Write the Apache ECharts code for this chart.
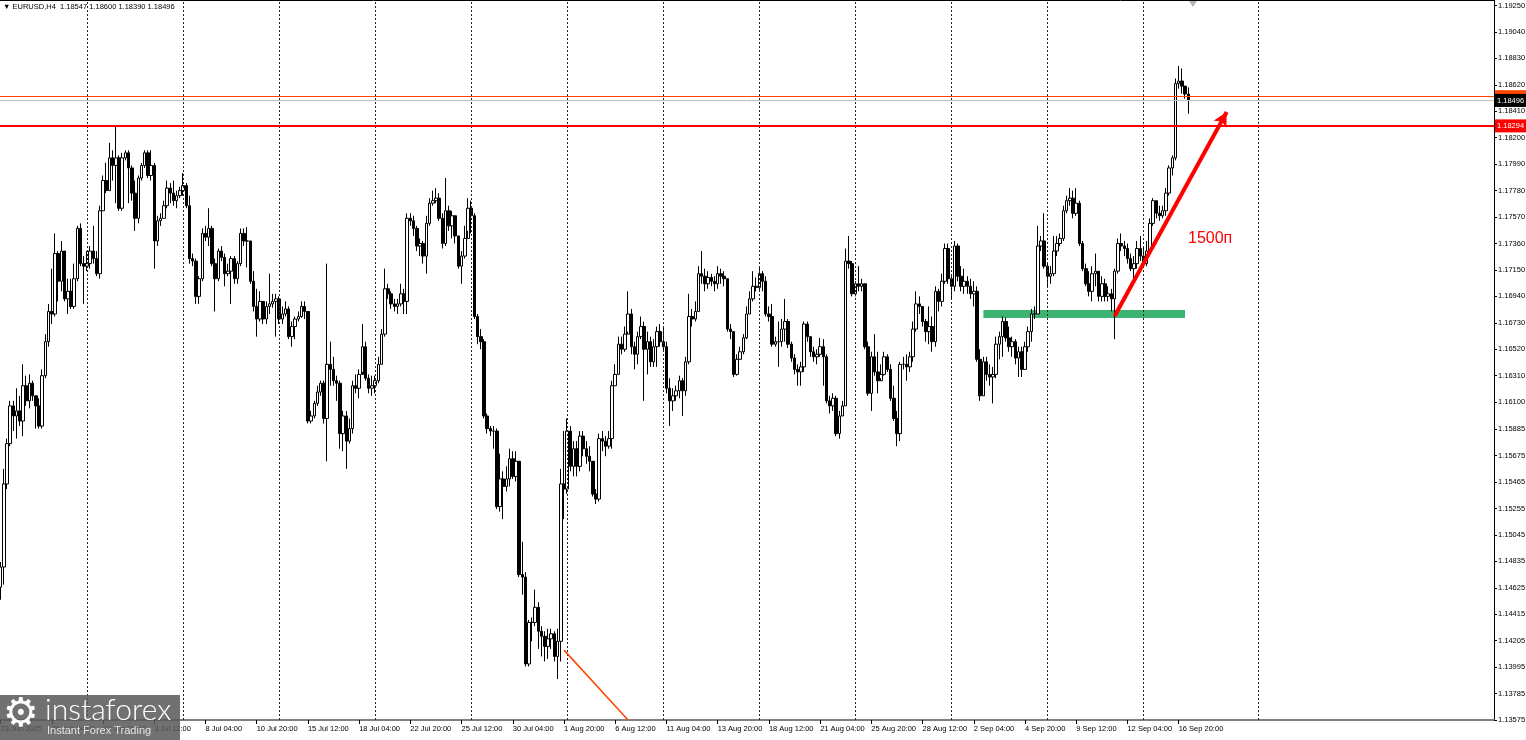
<!DOCTYPE html>
<html><head><meta charset="utf-8">
<script src="https://cdn.jsdelivr.net/npm/echarts@6/dist/echarts.min.js"></script>
<style>html,body{margin:0;padding:0;background:#fff}#c{width:1526px;height:740px}</style>
</head><body><div id="c"></div>
<script>
// ---- Data (EURUSD H4) ----
const tickLabelsX = ['23 Jun 2025','26 Jun 04:00','30 Jun 20:00','3 Jul 12:00','8 Jul 04:00','10 Jul 20:00','15 Jul 12:00','18 Jul 04:00','22 Jul 20:00','25 Jul 12:00','30 Jul 04:00','1 Aug 20:00','6 Aug 12:00','11 Aug 04:00','13 Aug 20:00','18 Aug 12:00','21 Aug 04:00','25 Aug 20:00','28 Aug 12:00','2 Sep 04:00','4 Sep 20:00','9 Sep 12:00','12 Sep 04:00','16 Sep 20:00'];
const tickValuesY = [1.19250,1.19040,1.18830,1.18620,1.18410,1.18200,1.17990,1.17780,1.17570,1.17360,1.17150,1.16940,1.16730,1.16520,1.16310,1.16100,1.15885,1.15675,1.15465,1.15255,1.15045,1.14835,1.14625,1.14415,1.14205,1.13995,1.13785,1.13575];
const weekSeparators = [27,57,87,117,147,177,207,237,267,297,327,357,393];

const opens = [
1.1463,1.1479,1.1545,1.1577,1.1607,1.1599,1.1603,1.1595,1.1623,1.1611,
1.1625,1.1615,1.1607,1.1591,1.1631,1.1658,1.1682,1.1680,1.1728,1.1706,
1.1730,1.1692,1.1698,1.1686,1.1708,1.1748,1.1720,1.1718,1.1720,1.1730,
1.1724,1.1712,1.1762,1.1786,1.1778,1.1804,1.1798,1.1804,1.1764,1.1804,
1.1808,1.1796,1.1776,1.1756,1.1788,1.1798,1.1808,1.1790,1.1798,1.1738,
1.1754,1.1756,1.1766,1.1780,1.1776,1.1770,1.1774,1.1778,1.1782,1.1766,
1.1724,1.1722,1.1694,1.1708,1.1744,1.1741,1.1748,1.1720,1.1708,1.1730,
1.1725,1.1712,1.1714,1.1724,1.1708,1.1720,1.1744,1.1738,1.1738,1.1706,
1.1686,1.1676,1.1690,1.1676,1.1686,1.1688,1.1690,1.1692,1.1676,1.1680,
1.1684,1.1662,1.1670,1.1676,1.1678,1.1686,1.1682,1.1595,1.1599,1.1609,
1.1618,1.1625,1.1597,1.1640,1.1636,1.1627,1.1625,1.1585,1.1599,1.1579,
1.1589,1.1623,1.1621,1.1632,1.1654,1.1629,1.1621,1.1623,1.1627,1.1640,
1.1664,1.1700,1.1696,1.1688,1.1686,1.1688,1.1696,1.1690,1.1756,1.1754,
1.1748,1.1734,1.1736,1.1726,1.1752,1.1768,1.1770,1.1772,1.1756,1.1736,
1.1762,1.1750,1.1758,1.1742,1.1718,1.1726,1.1740,1.1764,1.1758,1.1678,
1.1662,1.1658,1.1599,1.1589,1.1587,1.1587,1.1527,1.1549,1.1543,1.1549,
1.1565,1.1551,1.1563,1.1473,1.1471,1.1402,1.1435,1.1435,1.1447,1.1428,
1.1424,1.1416,1.1422,1.1426,1.1408,1.1420,1.1545,1.1541,1.1587,1.1559,
1.1573,1.1559,1.1583,1.1573,1.1567,1.1563,1.1537,1.1533,1.1581,1.1579,
1.1575,1.1581,1.1623,1.1632,1.1656,1.1652,1.1664,1.1680,1.1654,1.1648,
1.1662,1.1670,1.1652,1.1658,1.1642,1.1654,1.1666,1.1658,1.1654,1.1621,
1.1611,1.1615,1.1619,1.1627,1.1619,1.1642,1.1678,1.1676,1.1682,1.1712,
1.1710,1.1704,1.1709,1.1706,1.1704,1.1712,1.1710,1.1708,1.1668,1.1666,
1.1632,1.1644,1.1650,1.1661,1.1680,1.1692,1.1702,1.1701,1.1712,1.1706,
1.1680,1.1678,1.1656,1.1658,1.1658,1.1668,1.1674,1.1656,1.1645,1.1636,
1.1634,1.1638,1.1672,1.1662,1.1650,1.1646,1.1648,1.1654,1.1646,1.1611,
1.1607,1.1613,1.1585,1.1599,1.1607,1.1722,1.1720,1.1696,1.1704,1.1702,
1.1704,1.1654,1.1617,1.1646,1.1634,1.1627,1.1632,1.1646,1.1636,1.1613,
1.1597,1.1585,1.1640,1.1640,1.1638,1.1646,1.1668,1.1688,1.1686,1.1674,
1.1666,1.1670,1.1658,1.1698,1.1690,1.1706,1.1732,1.1708,1.1702,1.1734,
1.1710,1.1702,1.1706,1.1702,1.1696,1.1698,1.1644,1.1615,1.1642,1.1632,
1.1630,1.1632,1.1656,1.1662,1.1674,1.1661,1.1654,1.1658,1.1645,1.1650,
1.1636,1.1654,1.1666,1.1680,1.1680,1.1734,1.1738,1.1718,1.1710,1.1712,
1.1730,1.1736,1.1740,1.1762,1.1770,1.1772,1.1760,1.1768,1.1736,1.1716,
1.1704,1.1698,1.1712,1.1714,1.1694,1.1704,1.1694,1.1696,1.1692,1.1714,
1.1736,1.1734,1.1732,1.1724,1.1716,1.1720,1.1732,1.1726,1.1720,1.1730,
1.1752,1.1770,1.1760,1.1758,1.1762,1.1776,1.1796,1.1804,1.1863,1.1865,
1.1861,1.18547];

const closes = [
1.1479,1.1545,1.1577,1.1607,1.1599,1.1603,1.1595,1.1623,1.1611,1.1625,
1.1615,1.1607,1.1591,1.1631,1.1658,1.1682,1.1680,1.1728,1.1706,1.1730,
1.1692,1.1698,1.1686,1.1708,1.1748,1.1720,1.1718,1.1720,1.1730,1.1724,
1.1712,1.1762,1.1786,1.1778,1.1804,1.1798,1.1804,1.1764,1.1804,1.1808,
1.1796,1.1776,1.1756,1.1788,1.1798,1.1808,1.1790,1.1798,1.1738,1.1754,
1.1756,1.1766,1.1780,1.1776,1.1770,1.1774,1.1778,1.1782,1.1766,1.1724,
1.1722,1.1694,1.1708,1.1744,1.1741,1.1748,1.1720,1.1708,1.1730,1.1725,
1.1712,1.1714,1.1724,1.1708,1.1720,1.1744,1.1738,1.1738,1.1706,1.1686,
1.1676,1.1690,1.1676,1.1686,1.1688,1.1690,1.1692,1.1676,1.1680,1.1684,
1.1662,1.1670,1.1676,1.1678,1.1686,1.1682,1.1595,1.1599,1.1609,1.1618,
1.1625,1.1597,1.1640,1.1636,1.1627,1.1625,1.1585,1.1599,1.1579,1.1589,
1.1623,1.1621,1.1632,1.1654,1.1629,1.1621,1.1623,1.1627,1.1640,1.1664,
1.1700,1.1696,1.1688,1.1686,1.1688,1.1696,1.1690,1.1756,1.1754,1.1748,
1.1734,1.1736,1.1726,1.1752,1.1768,1.1770,1.1772,1.1756,1.1736,1.1762,
1.1750,1.1758,1.1742,1.1718,1.1726,1.1740,1.1764,1.1758,1.1678,1.1662,
1.1658,1.1599,1.1589,1.1587,1.1587,1.1527,1.1549,1.1543,1.1549,1.1565,
1.1551,1.1563,1.1473,1.1471,1.1402,1.1435,1.1435,1.1447,1.1428,1.1424,
1.1416,1.1422,1.1426,1.1408,1.1420,1.1545,1.1541,1.1587,1.1559,1.1573,
1.1559,1.1583,1.1573,1.1567,1.1563,1.1537,1.1533,1.1581,1.1579,1.1575,
1.1581,1.1623,1.1632,1.1656,1.1652,1.1664,1.1680,1.1654,1.1648,1.1662,
1.1670,1.1652,1.1658,1.1642,1.1654,1.1666,1.1658,1.1654,1.1621,1.1611,
1.1615,1.1619,1.1627,1.1619,1.1642,1.1678,1.1676,1.1682,1.1712,1.1710,
1.1704,1.1709,1.1706,1.1704,1.1712,1.1710,1.1708,1.1668,1.1666,1.1632,
1.1644,1.1650,1.1661,1.1680,1.1692,1.1702,1.1701,1.1712,1.1706,1.1680,
1.1678,1.1656,1.1658,1.1658,1.1668,1.1674,1.1656,1.1645,1.1636,1.1634,
1.1638,1.1672,1.1662,1.1650,1.1646,1.1648,1.1654,1.1646,1.1611,1.1607,
1.1613,1.1585,1.1599,1.1607,1.1722,1.1720,1.1696,1.1704,1.1702,1.1704,
1.1654,1.1617,1.1646,1.1634,1.1627,1.1632,1.1646,1.1636,1.1613,1.1597,
1.1585,1.1640,1.1640,1.1638,1.1646,1.1668,1.1688,1.1686,1.1674,1.1666,
1.1670,1.1658,1.1698,1.1690,1.1706,1.1732,1.1708,1.1702,1.1734,1.1710,
1.1702,1.1706,1.1702,1.1696,1.1698,1.1644,1.1615,1.1642,1.1632,1.1630,
1.1632,1.1656,1.1662,1.1674,1.1661,1.1654,1.1658,1.1645,1.1650,1.1636,
1.1654,1.1666,1.1680,1.1680,1.1734,1.1738,1.1718,1.1710,1.1712,1.1730,
1.1736,1.1740,1.1762,1.1770,1.1772,1.1760,1.1768,1.1736,1.1716,1.1704,
1.1698,1.1712,1.1714,1.1694,1.1704,1.1694,1.1696,1.1692,1.1714,1.1736,
1.1734,1.1732,1.1724,1.1716,1.1720,1.1732,1.1726,1.1720,1.1730,1.1752,
1.1770,1.1760,1.1758,1.1762,1.1776,1.1796,1.1804,1.1863,1.1865,1.1861,
1.18547,1.18496];

const highs = [
1.1483,1.1557,1.1581,1.1611,1.1611,1.1621,1.1615,1.1640,1.1631,1.1632,
1.1627,1.1615,1.1613,1.1636,1.1664,1.1688,1.1716,1.1744,1.1730,1.1738,
1.1730,1.1708,1.1708,1.1720,1.1750,1.1752,1.1726,1.1730,1.1734,1.1750,
1.1730,1.1766,1.1790,1.1800,1.1816,1.1810,1.1829,1.1806,1.1808,1.1810,
1.1810,1.1798,1.1786,1.1790,1.1800,1.1810,1.1810,1.1810,1.1800,1.1758,
1.1760,1.1770,1.1786,1.1784,1.1786,1.1778,1.1781,1.1792,1.1784,1.1774,
1.1728,1.1724,1.1710,1.1748,1.1750,1.1764,1.1750,1.1724,1.1732,1.1734,
1.1728,1.1720,1.1726,1.1726,1.1722,1.1748,1.1748,1.1749,1.1730,1.1714,
1.1700,1.1698,1.1690,1.1690,1.1712,1.1696,1.1696,1.1694,1.1686,1.1690,
1.1686,1.1674,1.1678,1.1682,1.1690,1.1690,1.1682,1.1603,1.1611,1.1623,
1.1627,1.1627,1.1720,1.1658,1.1646,1.1631,1.1627,1.1603,1.1603,1.1597,
1.1627,1.1632,1.1636,1.1672,1.1658,1.1632,1.1631,1.1631,1.1646,1.1668,
1.1716,1.1704,1.1698,1.1692,1.1692,1.1704,1.1700,1.1760,1.1760,1.1758,
1.1750,1.1740,1.1738,1.1758,1.1772,1.1778,1.1780,1.1776,1.1760,1.1788,
1.1766,1.1762,1.1758,1.1742,1.1730,1.1750,1.1772,1.1770,1.1760,1.1680,
1.1668,1.1660,1.1601,1.1591,1.1591,1.1589,1.1569,1.1555,1.1559,1.1573,
1.1571,1.1571,1.1559,1.1499,1.1475,1.1437,1.1439,1.1461,1.1451,1.1432,
1.1428,1.1430,1.1430,1.1428,1.1430,1.1557,1.1587,1.1597,1.1591,1.1579,
1.1579,1.1587,1.1587,1.1579,1.1575,1.1561,1.1541,1.1585,1.1587,1.1583,
1.1587,1.1627,1.1640,1.1662,1.1662,1.1670,1.1698,1.1684,1.1658,1.1666,
1.1678,1.1674,1.1666,1.1662,1.1660,1.1670,1.1672,1.1670,1.1658,1.1629,
1.1621,1.1623,1.1631,1.1629,1.1646,1.1696,1.1684,1.1690,1.1718,1.1730,
1.1716,1.1714,1.1712,1.1710,1.1718,1.1716,1.1714,1.1708,1.1672,1.1666,
1.1648,1.1654,1.1664,1.1686,1.1698,1.1714,1.1709,1.1718,1.1714,1.1710,
1.1686,1.1688,1.1662,1.1674,1.1676,1.1692,1.1676,1.1658,1.1648,1.1640,
1.1642,1.1674,1.1674,1.1662,1.1654,1.1652,1.1661,1.1660,1.1648,1.1615,
1.1617,1.1615,1.1603,1.1611,1.1732,1.1742,1.1722,1.1706,1.1718,1.1708,
1.1704,1.1658,1.1650,1.1664,1.1650,1.1640,1.1650,1.1648,1.1640,1.1623,
1.1603,1.1642,1.1646,1.1648,1.1650,1.1674,1.1698,1.1694,1.1684,1.1676,
1.1686,1.1678,1.1702,1.1700,1.1712,1.1736,1.1736,1.1710,1.1738,1.1736,
1.1718,1.1716,1.1710,1.1708,1.1706,1.1702,1.1652,1.1646,1.1646,1.1640,
1.1638,1.1662,1.1666,1.1678,1.1677,1.1670,1.1662,1.1660,1.1654,1.1654,
1.1658,1.1670,1.1684,1.1686,1.1750,1.1742,1.1760,1.1720,1.1718,1.1742,
1.1742,1.1744,1.1766,1.1774,1.1780,1.1778,1.1780,1.1770,1.1738,1.1720,
1.1714,1.1718,1.1728,1.1714,1.1710,1.1708,1.1702,1.1700,1.1716,1.1740,
1.1744,1.1738,1.1736,1.1728,1.1726,1.1738,1.1742,1.1734,1.1738,1.1756,
1.1772,1.1770,1.1766,1.1766,1.1780,1.1798,1.1806,1.1867,1.1877,1.1875,
1.1861,1.18600];

const lows = [
1.1453,1.1465,1.1541,1.1575,1.1587,1.1581,1.1591,1.1583,1.1607,1.1605,
1.1611,1.1589,1.1589,1.1589,1.1629,1.1654,1.1672,1.1678,1.1690,1.1698,
1.1690,1.1680,1.1684,1.1684,1.1706,1.1718,1.1688,1.1714,1.1716,1.1720,
1.1710,1.1708,1.1762,1.1776,1.1778,1.1786,1.1768,1.1762,1.1762,1.1802,
1.1768,1.1770,1.1746,1.1752,1.1786,1.1796,1.1788,1.1786,1.1716,1.1734,
1.1750,1.1756,1.1764,1.1768,1.1766,1.1764,1.1772,1.1774,1.1764,1.1720,
1.1718,1.1688,1.1688,1.1706,1.1738,1.1734,1.1718,1.1682,1.1706,1.1722,
1.1702,1.1710,1.1688,1.1704,1.1704,1.1718,1.1734,1.1717,1.1704,1.1682,
1.1662,1.1674,1.1672,1.1672,1.1680,1.1685,1.1662,1.1672,1.1672,1.1678,
1.1660,1.1654,1.1660,1.1674,1.1677,1.1676,1.1593,1.1593,1.1597,1.1607,
1.1615,1.1593,1.1563,1.1623,1.1623,1.1611,1.1573,1.1571,1.1557,1.1577,
1.1585,1.1617,1.1613,1.1634,1.1627,1.1617,1.1615,1.1617,1.1625,1.1640,
1.1662,1.1692,1.1684,1.1682,1.1680,1.1686,1.1680,1.1680,1.1750,1.1742,
1.1730,1.1726,1.1720,1.1712,1.1750,1.1766,1.1768,1.1754,1.1732,1.1734,
1.1746,1.1740,1.1736,1.1716,1.1704,1.1724,1.1746,1.1744,1.1676,1.1656,
1.1652,1.1597,1.1585,1.1583,1.1573,1.1525,1.1523,1.1517,1.1539,1.1543,
1.1549,1.1547,1.1471,1.1457,1.1400,1.1400,1.1420,1.1432,1.1414,1.1408,
1.1404,1.1406,1.1414,1.1404,1.1390,1.1404,1.1517,1.1537,1.1555,1.1551,
1.1551,1.1555,1.1567,1.1561,1.1555,1.1535,1.1529,1.1531,1.1571,1.1567,
1.1573,1.1573,1.1623,1.1632,1.1648,1.1650,1.1666,1.1648,1.1636,1.1640,
1.1660,1.1611,1.1632,1.1638,1.1638,1.1638,1.1654,1.1650,1.1617,1.1591,
1.1603,1.1611,1.1613,1.1599,1.1615,1.1640,1.1670,1.1674,1.1682,1.1704,
1.1698,1.1700,1.1702,1.1698,1.1700,1.1704,1.1702,1.1666,1.1660,1.1630,
1.1631,1.1644,1.1648,1.1660,1.1680,1.1690,1.1698,1.1698,1.1698,1.1678,
1.1674,1.1654,1.1654,1.1638,1.1654,1.1658,1.1653,1.1642,1.1632,1.1623,
1.1623,1.1634,1.1658,1.1646,1.1642,1.1640,1.1646,1.1623,1.1609,1.1601,
1.1603,1.1583,1.1581,1.1599,1.1607,1.1716,1.1694,1.1694,1.1698,1.1698,
1.1652,1.1615,1.1603,1.1631,1.1617,1.1629,1.1631,1.1634,1.1611,1.1595,
1.1575,1.1579,1.1636,1.1627,1.1634,1.1642,1.1666,1.1680,1.1670,1.1658,
1.1656,1.1650,1.1654,1.1682,1.1686,1.1704,1.1704,1.1692,1.1698,1.1706,
1.1698,1.1696,1.1696,1.1692,1.1686,1.1642,1.1611,1.1615,1.1627,1.1623,
1.1609,1.1629,1.1644,1.1646,1.1658,1.1650,1.1646,1.1640,1.1630,1.1630,
1.1636,1.1650,1.1658,1.1676,1.1680,1.1730,1.1716,1.1702,1.1704,1.1710,
1.1726,1.1734,1.1738,1.1760,1.1766,1.1756,1.1758,1.1734,1.1714,1.1702,
1.1694,1.1690,1.1702,1.1690,1.1690,1.1690,1.1690,1.1682,1.1660,1.1712,
1.1730,1.1726,1.1720,1.1714,1.1704,1.1716,1.1722,1.1718,1.1718,1.1730,
1.1750,1.1756,1.1754,1.1756,1.1758,1.1774,1.1790,1.1802,1.1859,1.1855,
1.1851,1.18390];

const resistanceLevel = 1.18294;
const askPrice = 1.18526;
const bidPrice = 1.18496;
const supportZone = {fromBar: 307, toBar: 370, top: 1.16832, bottom: 1.16768};
const moveArrow = {fromBar: 348, fromPrice: 1.16784, toBar: 383, toPrice: 1.18404};
const oldTrend = {fromBar: 176, fromPrice: 1.1413, toBar: 196, toPrice: 1.13575};

// ---- Category axis: H4 bar times (weekdays only), plus empty right-side shift area ----
const MONTHS = ['Jan','Feb','Mar','Apr','May','Jun','Jul','Aug','Sep','Oct','Nov','Dec'];
const TOTAL_SLOTS = 467;
const barTimes = [];
for (let t = Date.UTC(2025, 5, 23, 12); barTimes.length < TOTAL_SLOTS; t += 4 * 3600 * 1000) {
  const d = new Date(t), wd = d.getUTCDay();
  if (wd === 0 || wd === 6) continue;
  barTimes.push(d.getUTCDate() + ' ' + MONTHS[d.getUTCMonth()] + ' ' + String(d.getUTCHours()).padStart(2, '0') + ':00');
}
const candles = closes.map((c, i) => [opens[i], c, lows[i], highs[i]]);
const LAST_LABEL = (tickLabelsX.length - 1) * 16;

const FONT = '"Liberation Sans", Arial, sans-serif';
const priceLabel = (bg) => ({show: true, position: 'end', distance: 1, backgroundColor: bg, color: '#fff', fontSize: 7.5, fontFamily: FONT, padding: [3, 2, 2, 2], formatter: (p) => Number(p.value).toFixed(5)});
const chart = echarts.init(document.getElementById('c'), null, {renderer: 'canvas'});
chart.setOption({
  animation: false,
  backgroundColor: '#ffffff',
  grid: {left: -1, right: 32, top: 0, bottom: 20, containLabel: false, outerBoundsMode: 'none'},
  xAxis: {
    type: 'category', data: barTimes, boundaryGap: true,
    axisLine: {show: true, lineStyle: {color: '#808080', width: 2}},
    axisTick: {show: true, alignWithLabel: true, length: 4, interval: (i) => i % 16 === 0 && i <= LAST_LABEL, lineStyle: {color: '#000'}},
    axisLabel: {
      show: true, interval: (i) => i % 16 === 0 && i <= LAST_LABEL, align: 'left', margin: 5,
      fontSize: 7.5, fontFamily: FONT, color: '#000',
      formatter: (v, i) => tickLabelsX[i / 16] || ''
    },
    splitLine: {show: false}
  },
  yAxis: {
    type: 'value', position: 'right', min: 1.13575, max: 1.19294,
    axisLine: {show: true, onZero: false, lineStyle: {color: '#000', width: 1}},
    axisTick: {show: true, length: 3, customValues: tickValuesY, lineStyle: {color: '#000'}},
    axisLabel: {show: true, customValues: tickValuesY, formatter: (v) => v.toFixed(5), margin: 4, fontSize: 7.5, fontFamily: FONT, color: '#000'},
    splitLine: {show: false}
  },
  series: [
    {
      type: 'line', data: [], z: 1, silent: true,
      markLine: {
        silent: true, symbol: ['none', 'none'], animation: false, precision: 5,
        label: {show: false},
        lineStyle: {type: [2, 2], color: '#222', width: 1},
        data: weekSeparators.map((b) => ({xAxis: b}))
      }
    },
    {
      type: 'candlestick', data: candles, z: 2, barWidth: 3, silent: true,
      itemStyle: {color: '#ffffff', color0: '#000000', borderColor: '#000000', borderColor0: '#000000', borderWidth: 1}
    },
    {
      type: 'line', data: [], z: 3, silent: true,
      markArea: {
        silent: true,
        itemStyle: {color: '#3cb371', opacity: 1},
        data: [[{xAxis: supportZone.fromBar, yAxis: supportZone.top}, {xAxis: supportZone.toBar, yAxis: supportZone.bottom}]]
      },
      markLine: {
        silent: true, symbol: ['none', 'none'], animation: false, precision: 5,
        data: [
          {yAxis: askPrice, lineStyle: {color: '#ff4500', width: 1, type: 'solid'}, label: priceLabel('#ff4500')},
          {yAxis: bidPrice, lineStyle: {color: '#c0c0c0', width: 1, type: 'solid'}, label: priceLabel('#000000')},
          {yAxis: resistanceLevel, lineStyle: {color: '#ff0000', width: 2, type: 'solid'}, label: priceLabel('#ff0000')},
          [{coord: [oldTrend.fromBar, oldTrend.fromPrice], lineStyle: {color: '#ff4500', width: 1.5, type: 'solid'}, label: {show: false}},
           {coord: [oldTrend.toBar, oldTrend.toPrice]}],
          [{coord: [moveArrow.fromBar, moveArrow.fromPrice], symbol: 'none', lineStyle: {color: '#ff0000', width: 4, type: 'solid'}, label: {show: false}},
           {coord: [moveArrow.toBar, moveArrow.toPrice], symbol: 'arrow', symbolSize: [11, 14]}]
        ]
      }
    }
  ],
  graphic: [
    {type: 'line', z: 50, shape: {x1: 0, y1: 0.5, x2: 1494, y2: 0.5}, style: {stroke: '#000', lineWidth: 1}},
    {type: 'polygon', z: 50, shape: {points: [[1189, 1], [1197, 1], [1193, 7]]}, style: {fill: '#b4b4b4'}},
    {type: 'text', z: 50, x: 3, y: 3, style: {text: '▼ EURUSD,H4  1.18547 1.18600 1.18390 1.18496', font: '7.5px "Liberation Sans", Arial, sans-serif', fill: '#000', verticalAlign: 'top'}},
    {type: 'text', z: 50, x: 1188, y: 231, style: {text: '1500п', font: '16px "Liberation Sans", Arial, sans-serif', fill: '#ff0000', verticalAlign: 'top'}},
    {type: 'rect', z: 60, shape: {x: 0, y: 695, width: 180, height: 45}, style: {fill: 'rgba(88,88,88,0.85)'}},
    {type: 'text', z: 61, x: 3, y: 696, style: {text: '⚙', font: '40px "DejaVu Sans", sans-serif', fill: '#ffffff', verticalAlign: 'top'}},
    {type: 'text', z: 61, x: 45, y: 695, style: {text: 'instaforex', font: '300 30px Lato, "Open Sans", sans-serif', fill: '#ffffff', verticalAlign: 'top'}},
    {type: 'text', z: 61, x: 47, y: 725, style: {text: 'Instant Forex Trading', font: '11px "Liberation Sans", Arial, sans-serif', fill: '#e6e6e6', verticalAlign: 'top'}}
  ]
});
</script>
</body></html>
